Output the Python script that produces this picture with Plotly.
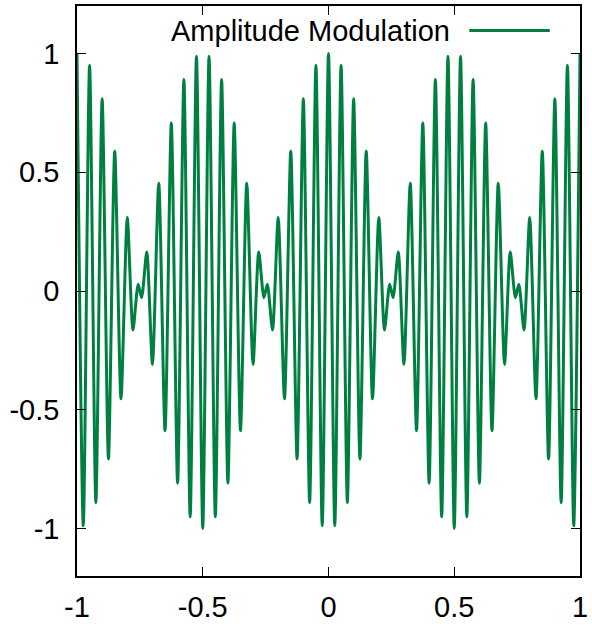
import plotly.graph_objects as go

# Extrema (and near-node wiggles) of the plotted curve
x_vals = [
    -1.0, -0.975, -0.95, -0.925, -0.9, -0.875, -0.85, -0.825, -0.8,
    -0.7774, -0.7568, -0.7432, -0.7226,
    -0.7, -0.675, -0.65, -0.625, -0.6, -0.575, -0.55, -0.525, -0.5,
    -0.475, -0.45, -0.425, -0.4, -0.375, -0.35, -0.325, -0.3,
    -0.2774, -0.2568, -0.2432, -0.2226,
    -0.2, -0.175, -0.15, -0.125, -0.1, -0.075, -0.05, -0.025, 0.0,
    0.025, 0.05, 0.075, 0.1, 0.125, 0.15, 0.175, 0.2,
    0.2226, 0.2432, 0.2568, 0.2774,
    0.3, 0.325, 0.35, 0.375, 0.4, 0.425, 0.45, 0.475, 0.5,
    0.525, 0.55, 0.575, 0.6, 0.625, 0.65, 0.675, 0.7,
    0.7226, 0.7432, 0.7568, 0.7774,
    0.8, 0.825, 0.85, 0.875, 0.9, 0.925, 0.95, 0.975, 1.0,
]
y_vals = [
    1.0, -0.988, 0.951, -0.891, 0.809, -0.707, 0.588, -0.454, 0.309,
    -0.164, 0.028, -0.028, 0.164,
    -0.309, 0.454, -0.588, 0.707, -0.809, 0.891, -0.951, 0.988, -1.0,
    0.988, -0.951, 0.891, -0.809, 0.707, -0.588, 0.454, -0.309,
    0.164, -0.028, 0.028, -0.164,
    0.309, -0.454, 0.588, -0.707, 0.809, -0.891, 0.951, -0.988, 1.0,
    -0.988, 0.951, -0.891, 0.809, -0.707, 0.588, -0.454, 0.309,
    -0.164, 0.028, -0.028, 0.164,
    -0.309, 0.454, -0.588, 0.707, -0.809, 0.891, -0.951, 0.988, -1.0,
    0.988, -0.951, 0.891, -0.809, 0.707, -0.588, 0.454, -0.309,
    0.164, -0.028, 0.028, -0.164,
    0.309, -0.454, 0.588, -0.707, 0.809, -0.891, 0.951, -0.988, 1.0,
]

series_name = "Amplitude Modulation"
x_ticks = [-1, -0.5, 0, 0.5, 1]
x_tick_labels = ["-1", "-0.5", "0", "0.5", "1"]
y_ticks = [-1, -0.5, 0, 0.5, 1]
y_tick_labels = ["-1", "-0.5", "0", "0.5", "1"]

LINE_COLOR = "#008040"
FONT = dict(family="Liberation Sans, Arial, sans-serif", size=29, color="black")

fig = go.Figure()
fig.add_trace(go.Scatter(
    x=x_vals, y=y_vals, mode="lines", name=series_name,
    line=dict(color=LINE_COLOR, width=3, shape="spline", smoothing=0.7),
    showlegend=False,
))

axis_common = dict(
    ticks="inside", ticklen=9, tickwidth=1, tickcolor="black",
    showline=True, linecolor="black", linewidth=1.5, mirror="ticks",
    showgrid=False, zeroline=False, tickfont=FONT,
    ticklabeloverflow="allow",
)
fig.update_xaxes(range=[-1, 1], tickvals=x_ticks, ticktext=x_tick_labels,
                 ticklabelstandoff=4, **axis_common)
fig.update_yaxes(range=[-1.2, 1.2], tickvals=y_ticks, ticktext=y_tick_labels,
                 ticklabelstandoff=10, **axis_common)

# key (gnuplot style: text then sample line)
fig.add_annotation(text=series_name, xref="paper", yref="paper",
                   x=0.746, y=0.957, xanchor="right", yanchor="middle",
                   showarrow=False, font=FONT)
fig.add_shape(type="line", xref="paper", yref="paper",
              x0=0.780, x1=0.940, y0=0.957, y1=0.957,
              line=dict(color=LINE_COLOR, width=3))

fig.update_layout(
    width=592, height=627,
    margin=dict(l=77, r=10, t=4, b=46),
    plot_bgcolor="white", paper_bgcolor="white",
    font=FONT,
)
fig.write_html("out.html")
